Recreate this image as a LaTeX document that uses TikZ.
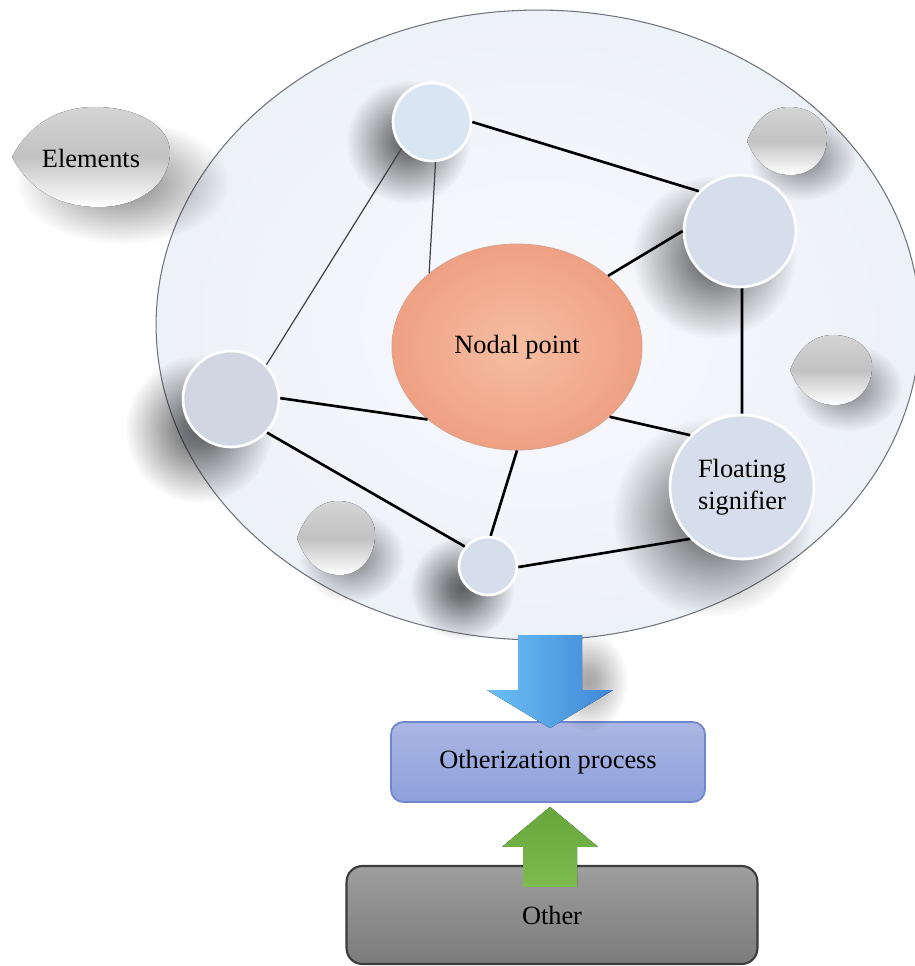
\documentclass[tikz,border=0pt]{standalone}
\usepackage{fontspec}
\setmainfont{Liberation Serif}
\usetikzlibrary{shapes.geometric, fadings, backgrounds, calc}
\definecolor{discfill}{HTML}{EDF1F8}
\definecolor{discline}{HTML}{6F747C}
\definecolor{momentfill}{HTML}{D6DEEB}
\definecolor{momenttop}{HTML}{D9E5F2}
\definecolor{momentleft}{HTML}{D1D7E2}
\definecolor{nodalin}{HTML}{F6BEA2}
\definecolor{nodalout}{HTML}{EFA083}
\definecolor{nodalline}{HTML}{D9A48E}
\definecolor{linkgrey}{HTML}{444444}
\definecolor{leaftop}{HTML}{D4D4D4}
\definecolor{leafmid}{HTML}{C2C2C2}
\definecolor{procline}{HTML}{6F86CF}
\definecolor{proctop}{HTML}{ABB6E3}
\definecolor{procbot}{HTML}{8DA1DB}
\definecolor{otherline}{HTML}{3C3C3C}
\definecolor{othertop}{HTML}{9E9E9E}
\definecolor{otherbot}{HTML}{7B7B7B}
\definecolor{arrowcyan}{HTML}{6CC0F4}
\definecolor{arrowblue}{HTML}{3F86D6}
\definecolor{arrowgreen}{HTML}{66A63A}
\definecolor{arrowlime}{HTML}{7DBB4F}

% soft round spot for the shadows
\pgfdeclareradialshading{softspotshade}{\pgfpointorigin}{%
  color(0bp)=(pgftransparent!0); color(6bp)=(pgftransparent!15);
  color(25bp)=(pgftransparent!100); color(50bp)=(pgftransparent!100)}
\pgfdeclarefading{softspot}{\pgfuseshading{softspotshade}}

\tikzset{
  soft shadow/.style={fill=black, opacity=#1, path fading=softspot},
  leaf/.pic={
    \fill[soft shadow=0.45] (0.4,0.5) ellipse (1.35 and 1.25);
    \fill[top color=leaftop, bottom color=white, middle color=leafmid]
      (-1,0) .. controls (-0.8,-0.6) and (-0.45,-1) .. (0.05,-1)
      .. controls (0.6,-1) and (1,-0.6) .. (1,-0.1)
      .. controls (1,0.55) and (0.6,1) .. (0.1,1)
      .. controls (-0.45,1) and (-0.8,0.6) .. (-1,0) -- cycle;
  }
}

\begin{document}
\begin{tikzpicture}[x=0.02cm, y=-0.02cm,
  every node/.style={font=\fontsize{15}{18.5}\selectfont},
  disc/.style={ellipse, draw=discline, line width=0.6pt, inner color=white!60!discfill,
               outer color=discfill, minimum width=15.28cm, minimum height=12.6cm},
  moment/.style={circle, draw=white, line width=1.5pt, fill=momentfill, inner sep=0pt},
  nodal/.style={ellipse, draw=nodalline, line width=0.5pt, inner color=nodalin,
                outer color=nodalout, inner sep=0pt, minimum width=5cm, minimum height=4.12cm},
  thin link/.style={draw=linkgrey, line width=0.7pt},
  thick link/.style={draw=black, line width=1.5pt},
  box/.style={rectangle, inner sep=0pt}
]
  \useasboundingbox (0,0) rectangle (915,966);
  \clip (0,0) rectangle (915,966);

  \begin{scope}[on background layer]
    \node[disc] (disc) at (538,325) {};
  \end{scope}

  % grey leaves
  \path (91,157) pic[xscale=79, yscale=50] {leaf};
  \path (787,141) pic[xscale=40, yscale=34] {leaf};
  \path (831,370) pic[xscale=41, yscale=35] {leaf};
  \path (336,538) pic[xscale=39, yscale=37] {leaf};
  \node (elements) at (91,158) {Elements};

  \node[moment, fill=momenttop, minimum size=1.56cm] (mtop) at (432,122) {};
  \node[moment, minimum size=2.24cm] (mright) at (740,231) {};
  \node[moment, fill=momentleft, minimum size=1.92cm] (mleft) at (231,399) {};
  \node[moment, minimum size=2.88cm, align=center] (floating) at (742,487) {Floating\\signifier};
  \node[moment, minimum size=1.16cm] (mbot) at (488,566) {};
  \node[nodal] (nodal) at (517,347) {Nodal point};

  \begin{scope}[on background layer]
    \fill[soft shadow=0.6] ($(mtop)+(-24,20)$) circle (62);
    \fill[soft shadow=0.6] ($(mright)+(-26,26)$) circle (82);
    \fill[soft shadow=0.6] ($(mleft)+(-32,30)$) circle (74);
    \fill[soft shadow=0.6] ($(floating)+(-30,30)$) circle (100);
    \fill[soft shadow=0.6] ($(mbot)+(-26,22)$) circle (52);
  \end{scope}

  \draw[thick link] (mtop.0) -- (mright.136);
  \draw[thin link] (mtop.221) -- (mleft.44);
  \draw[thin link] (mtop.-85) -- (nodal.140);
  \draw[thick link] (mright.180) -- (nodal.38);
  \draw[thick link] (mright.-88) -- (floating.90);
  \draw[thick link] (mleft.1) -- (nodal.219);
  \draw[thick link] (mleft.-43) -- (mbot.140);
  \draw[thick link] (nodal.-90) -- (mbot.85);
  \draw[thick link] (nodal.-37) -- (floating.135);
  \draw[thick link] (mbot.-2) -- (floating.225);

  \node[box, rounded corners=7pt, draw=procline, line width=1pt, top color=proctop,
        bottom color=procbot, minimum width=6.28cm, minimum height=1.6cm]
        (process) at (548,762) {Otherization process};
  \node[box, rounded corners=9pt, draw=otherline, line width=1.2pt, top color=othertop,
        bottom color=otherbot, minimum width=8.22cm, minimum height=1.96cm]
        (other) at (552,915) {\raisebox{-0.2cm}{Other}};

  % block arrows
  \fill[soft shadow=0.35] ($(process.north)+(40,-40)$) ellipse (40 and 50);
  \coordinate (btip) at ($(process.north)+(2,7)$);
  \fill[left color=arrowcyan, right color=arrowblue]
    (btip) -- ++(-63,-38) -- ++(31,0) -- ++(0,-55) -- ++(64,0)
    -- ++(0,55) -- ++(31,0) -- cycle;
  \coordinate (gtip) at ($(process.south)+(2,4)$);
  \fill[top color=arrowgreen, bottom color=arrowlime]
    (gtip) -- ++(48,40) -- ++(-21,0) -- ++(0,40) -- ++(-54,0)
    -- ++(0,-40) -- ++(-21,0) -- cycle;
\end{tikzpicture}
\end{document}
